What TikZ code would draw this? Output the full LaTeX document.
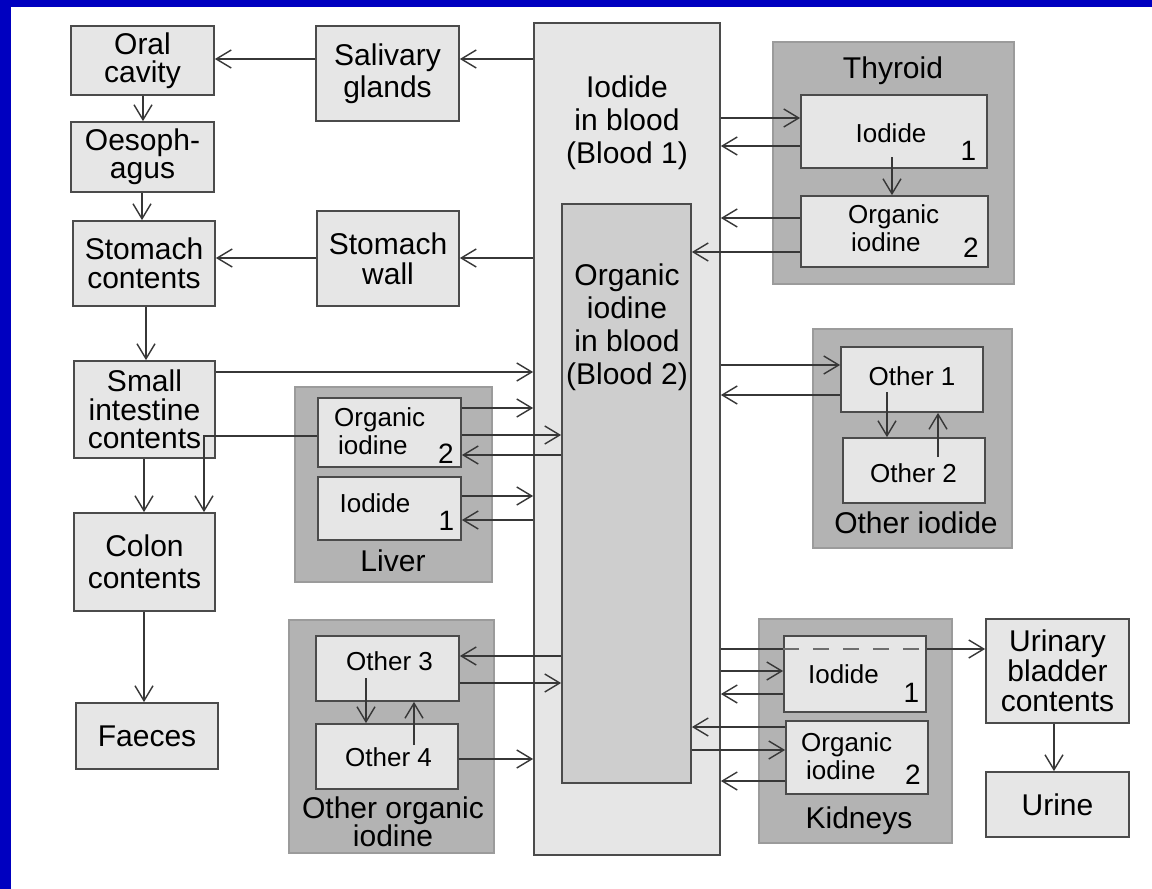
\documentclass[tikz,border=0pt]{standalone}
\usepackage{fontspec}
\setmainfont{Liberation Sans}
\usetikzlibrary{arrows.meta,fit}
\definecolor{bluebar}{RGB}{0,0,192}
\definecolor{lightf}{RGB}{230,230,230}
\definecolor{organf}{RGB}{179,179,179}
\definecolor{organd}{RGB}{155,155,155}
\definecolor{bloodtwo}{RGB}{206,206,206}
\definecolor{linec}{RGB}{55,55,55}
\definecolor{boxd}{RGB}{75,75,75}
\definecolor{dashc}{RGB}{110,110,110}
\newcommand\bx[7][]{\node[box,#1,minimum width={(#5)-(#3)},minimum height={(#6)-(#4)}] (#2) at ({((#3)+(#5))/2},{((#4)+(#6))/2}) {#7};}
\begin{document}
\begin{tikzpicture}[x=1pt,y=-1pt,
 box/.style={draw=boxd,fill=lightf,line width=1.8pt,inner sep=0pt,align=center},
 organ/.style={draw=organd,fill=organf,line width=1.2pt,inner sep=0pt},
 sub/.style={draw=boxd,fill=lightf,line width=1.8pt,inner sep=0pt},
 lab/.style={inner sep=0pt,font=\fontsize{30}{30}\selectfont,anchor=base,align=center},
 slab/.style={inner sep=0pt,font=\fontsize{26}{28}\selectfont,align=left},
 num/.style={inner sep=0pt,font=\fontsize{28}{28}\selectfont,anchor=base},
 conn/.style={draw=linec,line width=1.4pt},
 arr/.style={conn,-{Straight Barb[length=15pt,width=18pt,line width=1.4pt]}},
]
\useasboundingbox (0,0) rectangle (1152,889);
\fill[white] (0,0) rectangle (1152,889);
\fill[bluebar] (0,0) rectangle (1152,7);
\fill[bluebar] (0,0) rectangle (11,889);

% left column
\bx[font=\fontsize{30}{28}\selectfont]{oral}{71}{26}{214}{95}{Oral\\cavity}
\bx[font=\fontsize{30}{28}\selectfont]{oeso}{71}{122}{214}{192}{Oesoph-\\agus}
\bx[font=\fontsize{30}{29}\selectfont]{stomc}{73}{221}{215}{306}{Stomach\\contents}
\bx[font=\fontsize{30}{32}\selectfont]{saliv}{316}{26}{459}{121}{Salivary\\glands}
\bx[font=\fontsize{30}{30}\selectfont]{stomw}{317}{211}{459}{306}{Stomach\\wall}
\bx[font=\fontsize{30}{28.5}\selectfont]{small}{74}{361}{215}{458}{Small\\intestine\\contents}
\bx[font=\fontsize{30}{32}\selectfont]{colon}{74}{513}{215}{611}{Colon\\contents}
\bx[font=\fontsize{30}{30}\selectfont]{faeces}{76}{703}{218}{769}{Faeces}

% organ groups
\node[organ,fit={(773,42)(1014,284)}] (thyr) {};
\node[organ,fit={(295,387)(492,582)}] (liver) {};
\node[organ,fit={(813,329)(1012,548)}] (othi) {};
\node[organ,fit={(289,620)(494,853)}] (otho) {};
\node[organ,fit={(759,619)(952,843)}] (kidn) {};
\node[lab] (thyrl) at (893,78) {Thyroid};
\node[lab] (liverl) at (393,571) {Liver};
\node[lab] (othil) at (916,533) {Other iodide};
\node[lab] (kidnl) at (859,828) {Kidneys};
\node[inner sep=0pt,font=\fontsize{30}{28}\selectfont,align=center] (thol) at (393,822) {Other organic\\iodine};

% blood
\node[box,fit={(534,23)(720,855)}] (blood1) {};
\node[box,fill=bloodtwo,fit={(562,204)(691,783)}] (blood2) {};
\node[inner sep=0pt,font=\fontsize{30}{33}\selectfont,align=center] (b1l) at (627,123) {Iodide\\in blood\\(Blood 1)};
\node[inner sep=0pt,font=\fontsize{30}{33}\selectfont,align=center] (b2l) at (627,327) {Organic\\iodine\\in blood\\(Blood 2)};

% sub boxes
\node[sub,fit={(801,95)(987,168)}] (tI) {};
\node[sub,fit={(801,196)(988,267)}] (tO) {};
\node[sub,fit={(318,398)(461,467)}] (lO) {};
\node[sub,fit={(318,477)(461,540)}] (lI) {};
\node[sub,fit={(841,347)(983,412)}] (o1) {};
\node[sub,fit={(843,438)(985,503)}] (o2) {};
\node[sub,fit={(316,636)(459,701)}] (o3) {};
\node[sub,fit={(316,724)(458,789)}] (o4) {};
\node[sub,fit={(784,636)(926,712)}] (kI) {};
\node[sub,fit={(786,721)(928,794)}] (kO) {};
\bx[font=\fontsize{30}{30}\selectfont]{urin}{986}{619}{1129}{723}{Urinary\\bladder\\contents}
\bx[font=\fontsize{30}{30}\selectfont]{urine}{986}{772}{1129}{837}{Urine}

% sub labels
\node[slab,anchor=base] (tIl) at (891,142) {Iodide};
\node[slab,anchor=west] (tOl) at (848,228.5) {Organic\\\hspace*{3pt}iodine};
\node[num] (tIn) at (968.5,160) {1};
\node[num] (tOn) at (971,257) {2};
\node[slab,anchor=west] (lOl) at (334,431.5) {Organic\\\hspace*{4pt}iodine};
\node[slab,anchor=base] (lIl) at (375,512) {Iodide};
\node[num] (lOn) at (446,463) {2};
\node[num] (lIn) at (446.5,530) {1};
\node[slab,anchor=base] (o1l) at (912,385) {Other 1};
\node[slab,anchor=base] (o2l) at (913.5,482) {Other 2};
\node[slab,anchor=base] (o3l) at (389.5,670) {Other 3};
\node[slab,anchor=base] (o4l) at (388.5,766) {Other 4};
\node[slab,anchor=base] (kIl) at (843.5,683) {Iodide};
\node[slab,anchor=west] (kOl) at (801,756.5) {Organic\\\hspace*{5pt}iodine};
\node[num] (kIn) at (911.5,702) {1};
\node[num] (kOn) at (913,784) {2};

% gastrointestinal connectors
\draw[arr] (blood1.west |- 0,59) -- (saliv.east |- 0,59);
\draw[arr] (saliv.west |- 0,59) -- (oral.east |- 0,59);
\draw[arr] (oral.south -| 143,0) -- (oeso.north -| 143,0);
\draw[arr] (oeso.south -| 142,0) -- (stomc.north -| 142,0);
\draw[arr] (blood1.west |- 0,258) -- (stomw.east |- 0,258);
\draw[arr] (stomw.west |- 0,258) -- (stomc.east |- 0,258);
\draw[arr] (stomc.south -| 146,0) -- (small.north -| 146,0);
\draw[arr] (small.east |- 0,372) -- (blood1.west |- 0,372);
\draw[arr] (small.south -| 144,0) -- (colon.north -| 144,0);
\coordinate (lc) at (204,436);
\draw[arr] (lO.west |- lc) -- (lc) -- (lc |- colon.north);
\draw[arr] (colon.south -| 144,0) -- (faeces.north -| 144,0);

% liver
\draw[arr] (lO.east |- 0,408) -- (blood1.west |- 0,408);
\draw[arr] (lO.east |- 0,435) -- (blood2.west |- 0,435);
\draw[arr] (blood2.west |- 0,455) -- (lO.east |- 0,455);
\draw[arr] (lI.east |- 0,496) -- (blood1.west |- 0,496);
\draw[arr] (blood1.west |- 0,520) -- (lI.east |- 0,520);

% other organic iodine
\draw[arr] (blood2.west |- 0,656) -- (o3.east |- 0,656);
\draw[arr] (o3.east |- 0,683) -- (blood2.west |- 0,683);
\draw[arr] (o4.east |- 0,759) -- (blood1.west |- 0,759);
\coordinate (o34) at (366,678);
\coordinate (o43) at (414,745);
\draw[arr] (o34) -- (o34 |- o4.north);
\draw[arr] (o43) -- (o43 |- o3.south);

% thyroid
\draw[arr] (blood1.east |- 0,118) -- (tI.west |- 0,118);
\draw[arr] (tI.west |- 0,146) -- (blood1.east |- 0,146);
\draw[arr] (tO.west |- 0,218) -- (blood1.east |- 0,218);
\draw[arr] (tO.west |- 0,252) -- (blood2.east |- 0,252);
\coordinate (t12) at (892,157);
\draw[arr] (t12) -- (t12 |- tO.north);

% other iodide
\draw[arr] (blood1.east |- 0,365) -- (o1.west |- 0,365);
\draw[arr] (o1.west |- 0,395) -- (blood1.east |- 0,395);
\coordinate (o12) at (887,392);
\coordinate (o21) at (938,457);
\draw[arr] (o12) -- (o12 |- o2.north);
\draw[arr] (o21) -- (o21 |- o1.south);

% kidneys
\draw[conn] (blood1.east |- 0,649) -- (kI.west |- 0,649);
\draw[draw=dashc,line width=1.4pt,dash pattern=on 16pt off 14pt] (kI.west |- 0,649) -- (kI.east |- 0,649);
\draw[arr] (kI.east |- 0,649) -- (urin.west |- 0,649);
\draw[arr] (blood1.east |- 0,671) -- (kI.west |- 0,671);
\draw[arr] (kI.west |- 0,694) -- (blood1.east |- 0,694);
\draw[arr] (kO.west |- 0,727) -- (blood2.east |- 0,727);
\draw[arr] (blood2.east |- 0,750) -- (kO.west |- 0,750);
\draw[arr] (kO.west |- 0,781) -- (blood1.east |- 0,781);
\draw[arr] (urin.south -| 1054,0) -- (urine.north -| 1054,0);
\end{tikzpicture}
\end{document}
